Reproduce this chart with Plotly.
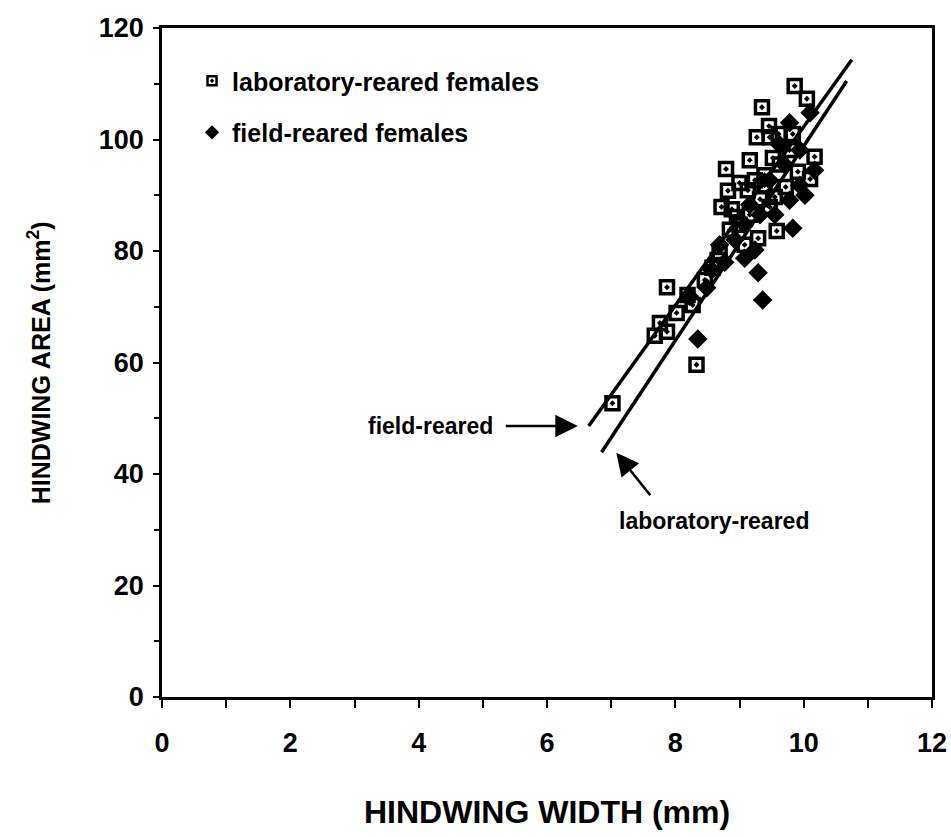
import plotly.graph_objects as go

# --- data ---
lab_width = [7.02, 7.68, 7.76, 7.87, 7.87, 8.02, 8.27, 8.33, 8.69, 8.58,
             9.08, 9.29, 9.58, 8.88, 8.72, 9.47, 9.32, 9.55, 8.82, 9.00,
             9.13, 9.72, 9.91, 10.10, 10.17, 8.79, 9.16, 9.52, 9.27, 9.46,
             9.47, 9.61, 9.83, 9.35, 9.86, 10.05, 8.96, 8.85, 8.66, 8.46,
             8.19, 9.24, 9.39, 9.78, 9.00, 9.16, 9.39, 9.63]
lab_area = [52.7, 64.8, 67.1, 65.5, 73.5, 68.9, 70.3, 59.6, 79.8, 77.0,
            81.1, 82.3, 83.6, 87.5, 87.9, 87.9, 89.3, 89.7, 90.8, 92.2,
            90.9, 91.5, 94.2, 92.9, 96.9, 94.7, 96.3, 96.7, 100.4, 102.4,
            100.4, 101.0, 101.0, 105.8, 109.6, 107.3, 86.1, 83.8, 78.4, 74.8,
            72.1, 92.7, 93.6, 98.1, 84.7, 86.5, 91.8, 95.5]

field_width = [8.35, 9.29, 9.36, 9.83, 8.49, 10.10, 9.78, 9.63, 9.94, 9.71,
               9.47, 9.78, 10.02, 9.32, 9.55, 9.08, 8.93, 9.08, 8.77, 8.57,
               8.22, 8.69, 9.24, 9.94, 10.17, 9.16]
field_area = [64.2, 76.1, 71.2, 84.1, 73.4, 104.8, 103.0, 99.0, 98.1, 95.4,
              92.7, 89.1, 90.0, 86.5, 86.5, 84.7, 82.0, 78.7, 78.0, 76.6,
              71.9, 81.1, 80.2, 91.8, 94.5, 88.3]

# regression lines (end points)
field_line_x = [6.65, 10.75]
field_line_y = [48.6, 114.3]
lab_line_x = [6.85, 10.67]
lab_line_y = [43.9, 110.5]

x_ticks = [0, 2, 4, 6, 8, 10, 12]
y_ticks = [0, 20, 40, 60, 80, 100, 120]

FONT = "Liberation Sans"

fig = go.Figure()

# data points
fig.add_trace(go.Scatter(
    x=lab_width, y=lab_area, mode="markers", showlegend=False,
    marker=dict(symbol="square-open-dot", size=13, color="black",
                line=dict(width=3.5, color="black")),
))
fig.add_trace(go.Scatter(
    x=field_width, y=field_area, mode="markers", showlegend=False,
    marker=dict(symbol="diamond", size=15, color="black",
                line=dict(width=0)),
))
# regression lines
fig.add_trace(go.Scatter(
    x=field_line_x, y=field_line_y, mode="lines", showlegend=False,
    line=dict(color="black", width=3.5),
))
fig.add_trace(go.Scatter(
    x=lab_line_x, y=lab_line_y, mode="lines", showlegend=False,
    line=dict(color="black", width=3.5),
))
# legend entries (smaller symbols, as in the reference key)
fig.add_trace(go.Scatter(
    x=[None], y=[None], mode="markers",
    name="<b>laboratory-reared females</b>", legendgroup="lab",
    marker=dict(symbol="square-open-dot", size=9, color="black",
                line=dict(width=2.5, color="black")),
))
fig.add_trace(go.Scatter(
    x=[None], y=[None], mode="markers",
    name="<b>field-reared females</b>", legendgroup="field",
    marker=dict(symbol="diamond", size=11, color="black", line=dict(width=0)),
))

axis_common = dict(
    showline=True, linecolor="black", linewidth=2.5, mirror=True,
    ticks="outside", tickcolor="black", tickwidth=2,
    showgrid=False, zeroline=False, automargin=False,
    tickfont=dict(family=FONT, size=27, color="black", weight="bold"),
)

fig.update_xaxes(range=[0, 12], tickvals=x_ticks, ticklen=8,
                 ticklabelstandoff=12,
                 minor=dict(dtick=1, ticks="outside", ticklen=8,
                            tickcolor="black", tickwidth=2),
                 **axis_common)
fig.update_yaxes(range=[0, 120], tickvals=y_ticks, ticklen=6,
                 ticklabelstandoff=4,
                 minor=dict(dtick=10, ticks="outside", ticklen=5,
                            tickcolor="black", tickwidth=2),
                 **axis_common)

ann_font = dict(family=FONT, size=23, color="black")

fig.update_layout(
    width=951, height=837,
    margin=dict(l=162, r=19, t=28, b=140),
    paper_bgcolor="white", plot_bgcolor="white",
    showlegend=True,
    legend=dict(x=0.039, y=0.955, xanchor="left", yanchor="top",
                font=dict(family=FONT, size=25, color="black"),
                tracegroupgap=16, bgcolor="rgba(0,0,0,0)",
                itemsizing="trace"),
    annotations=[
        # axis titles
        dict(text="<b>HINDWING WIDTH (mm)</b>", xref="paper", yref="paper",
             x=0.5, y=-0.172, xanchor="center", yanchor="middle",
             showarrow=False, font=dict(family=FONT, size=32, color="black")),
        dict(text="<b>HINDWING AREA (mm<sup>2</sup>)</b>", xref="paper", yref="paper",
             x=-0.16, y=0.5, xanchor="center", yanchor="middle", textangle=-90,
             showarrow=False, font=dict(family=FONT, size=25, color="black")),
        # line labels
        dict(text="<b>field-reared</b>", xref="x", yref="y",
             x=4.18, y=48.6, xanchor="center", yanchor="middle",
             showarrow=False, font=ann_font),
        dict(text=" ", xref="x", yref="y", x=6.48, y=48.6, ax=-74, ay=0,
             showarrow=True, arrowhead=2, arrowsize=1.8, arrowwidth=2.5,
             arrowcolor="black", font=dict(size=2)),
        dict(text="<b>laboratory-reared</b>", xref="x", yref="y",
             x=8.6, y=31.5, xanchor="center", yanchor="middle",
             showarrow=False, font=ann_font),
        dict(text=" ", xref="x", yref="y", x=7.08, y=43.8, ax=36, ay=45,
             showarrow=True, arrowhead=2, arrowsize=1.8, arrowwidth=2.5,
             arrowcolor="black", font=dict(size=2)),
    ],
)

fig.write_html("out.html")
